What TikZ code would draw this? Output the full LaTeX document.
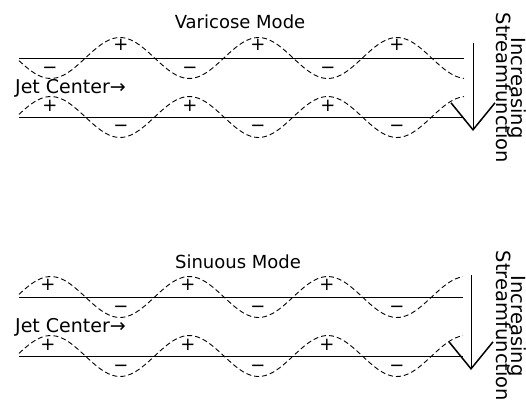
\documentclass[tikz,border=0pt]{standalone}
\usepackage{fontspec}
\setmainfont{DejaVu Sans}
\usepackage{tikz}
\usetikzlibrary{arrows.meta}
\newcommand{\sidefont}{\fontsize{19.5}{15}\selectfont\setlength{\lineskiplimit}{-50pt}}

\begin{document}
\begin{tikzpicture}[
    x=1pt, y=-1pt,
    title/.style={inner sep=0pt, font=\fontsize{18}{20}\selectfont},
    jetlabel/.style={inner sep=0pt, anchor=west, font=\fontsize{19}{20}\selectfont},
    sgn/.style={inner sep=0pt, font=\fontsize{18}{20}\selectfont},
    wave/.style={dashed, dash pattern=on 5pt off 3pt, line width=0.9pt},
    jet/.style={line width=0.9pt},
    flow/.style={line width=0.9pt, -{Straight Barb[length=27pt, width=44pt, line width=1.5pt]}},
    side/.style={inner sep=0pt, rotate=-90, align=center, font=\sidefont}
]
    \useasboundingbox (0,0) rectangle (526,400);

    % Varicose mode
    \node[title] (vtitle) at (240,22) {Varicose Mode};
    \draw[jet] (19,58) -- (464,58);
    \draw[jet] (19,117) -- (464,117);
    \draw[wave] plot[domain=19:464, samples=120, smooth] (\x, {58-20.5*cos(2.5993*(\x-120))});
    \draw[wave] plot[domain=19:464, samples=120, smooth] (\x, {117+20.5*cos(2.5993*(\x-120))});
    \foreach \i/\x in {1/121, 2/258, 3/397} {
        \node[sgn] (vup\i) at (\x,45) {+};
        \node[sgn] (vlm\i) at (\x,128) {−};
    }
    \foreach \i/\x in {1/50, 2/190, 3/328} {
        \node[sgn] (vum\i) at (\x,70) {−};
        \node[sgn] (vlp\i) at (\x,106) {+};
    }
    \node[jetlabel] (vjet) at (15,88) {Jet Center→};
    \node[side] (vlab) at (511,88) {Increasing\\Streamfunction};

    % Sinuous mode
    \node[title] (stitle) at (238,262) {Sinuous Mode};
    \draw[jet] (19,297) -- (463,297);
    \draw[jet] (19,356) -- (463,356);
    \draw[wave] plot[domain=19:463, samples=120, smooth] (\x, {297+20.5*cos(2.5993*(\x-120))});
    \draw[wave] plot[domain=19:463, samples=120, smooth] (\x, {356+20.5*cos(2.5993*(\x-120))});
    \foreach \i/\x in {1/48, 2/188, 3/327} {
        \node[sgn] (sup\i) at (\x,285) {+};
        \node[sgn] (slp\i) at (\x,345) {+};
    }
    \foreach \i/\x in {1/121, 2/258, 3/397} {
        \node[sgn] (sum\i) at (\x,309) {−};
        \node[sgn] (slm\i) at (\x,368) {−};
    }
    \node[jetlabel] (sjet) at (15,327) {Jet Center→};
    \node[side] (slab) at (511,326) {Increasing\\Streamfunction};

    % Arrows
    \coordinate (vtop) at (473,43);
    \coordinate (vtip) at (473,131);
    \coordinate (stop) at (471,275);
    \coordinate (stip) at (471,370);
    \draw[flow] (vtop) -- (vtip);
    \draw[flow] (stop) -- (stip);
\end{tikzpicture}
\end{document}
